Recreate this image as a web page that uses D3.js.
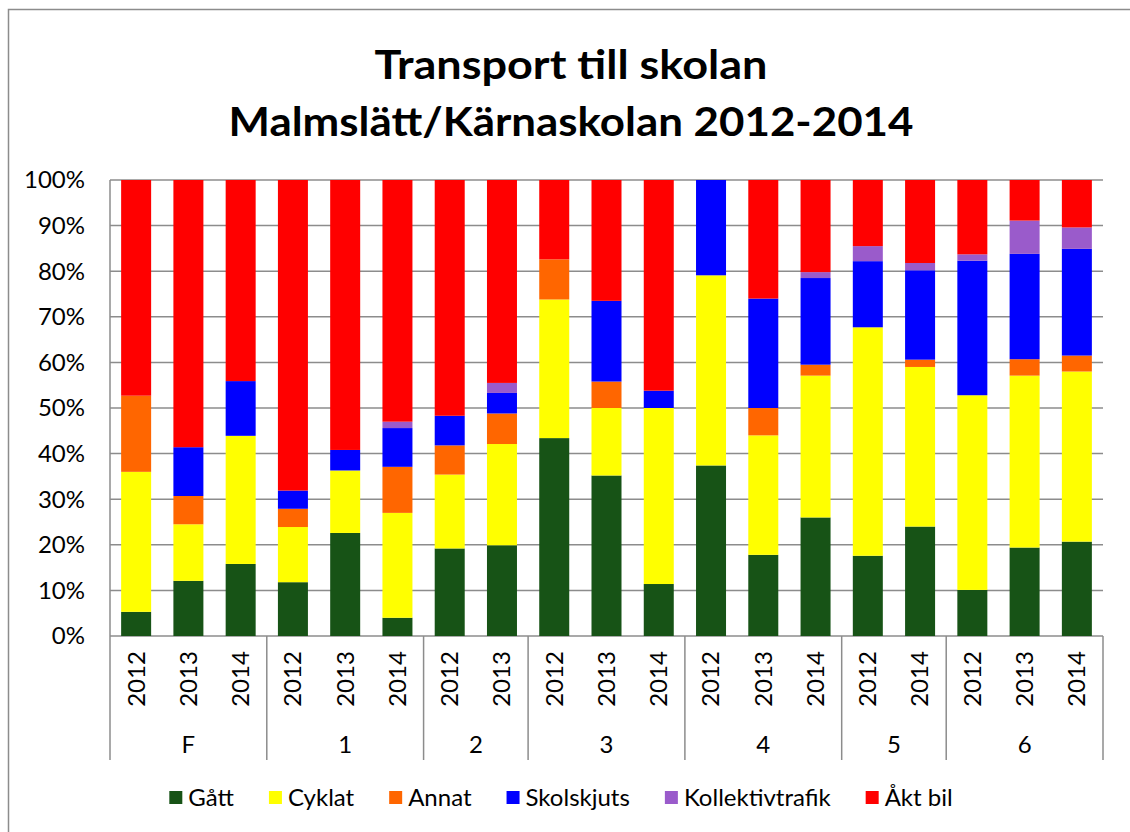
<!DOCTYPE html>
<html>
<head>
	<meta charset="utf-8">
	<title>Transport till skolan</title>
	<script src="https://d3js.org/d3.v7.min.js"></script>
	<style>
	body{
		margin: 0;
		background: #ffffff;
		font-family: Lato, "Liberation Sans", Arial, sans-serif;
	}
	.grid{
		stroke: #8c8c8c;
		stroke-width: 1.5;
	}
	</style>
</head>
<body>
	<div id="chart"></div>
	<script>
		// data (percent of pupils)
		var groups = ["F", "F", "F", "1", "1", "1", "2", "2", "3", "3", "3", "4", "4", "4", "5", "5", "6", "6", "6"];
		var years = ["2012", "2013", "2014", "2012", "2013", "2014", "2012", "2013", "2012", "2013", "2014", "2012", "2013", "2014", "2012", "2014", "2012", "2013", "2014"];
		var series = ["Gått", "Cyklat", "Annat", "Skolskjuts", "Kollektivtrafik", "Åkt bil"];
		var colors = ["#175316", "#ffff00", "#ff6600", "#0000ff", "#9a5bcb", "#ff0000"];

		var gatt      = [5.3, 12.1, 15.8, 11.8, 22.6, 4.0, 19.2, 19.9, 43.4, 35.2, 11.4, 37.4, 17.8, 26.0, 17.6, 24.0, 10.1, 19.4, 20.7];
		var cyklat    = [30.7, 12.4, 28.1, 12.1, 13.7, 23.0, 16.2, 22.2, 30.4, 14.8, 38.6, 41.7, 26.2, 31.1, 50.1, 35.0, 42.7, 37.7, 37.3];
		var annat     = [16.7, 6.2, 0, 4.0, 0, 10.1, 6.4, 6.7, 8.8, 5.8, 0, 0, 6.0, 2.4, 0, 1.6, 0, 3.6, 3.5];
		var skolskjuts = [0, 10.7, 12.0, 4.0, 4.5, 8.5, 6.5, 4.5, 0, 17.7, 3.8, 20.9, 24.0, 19.0, 14.5, 19.6, 29.5, 23.1, 23.4];
		var kollektiv = [0, 0, 0, 0, 0, 1.4, 0, 2.2, 0, 0, 0, 0, 0, 1.3, 3.3, 1.6, 1.4, 7.3, 4.7];
		var aktBil    = [47.3, 58.6, 44.1, 68.1, 59.2, 53.0, 51.7, 44.5, 17.4, 26.5, 46.2, 0, 26.0, 20.2, 14.5, 18.2, 16.3, 8.9, 10.4];

		var yTicks = [0, 10, 20, 30, 40, 50, 60, 70, 80, 90, 100];

		var valueLists = [gatt, cyklat, annat, skolskjuts, kollektiv, aktBil];
		var rows = years.map(function(y, i){
			var row = {index: i};
			series.forEach(function(s, k){ row[s] = valueLists[k][i]; });
			return row;
		});

		var width = 1130, height = 832;
		var plot = {left: 110, right: 1103, top: 180, bottom: 636};
		var fontSize = 24;

		var svg = d3.select("#chart").append("svg")
			.attr("width", width)
			.attr("height", height);

		svg.append("rect")
			.attr("width", width).attr("height", height)
			.attr("fill", "#ffffff");

		// outer frame of the chart area
		svg.append("rect")
			.attr("x", 8.5).attr("y", 9.5)
			.attr("width", 1200).attr("height", 900)
			.attr("fill", "none")
			.attr("stroke", "#8c8c8c")
			.attr("stroke-width", 1.5);

		// title
		var title = svg.append("g")
			.attr("font-weight", "bold")
			.attr("font-size", 41)
			.attr("text-anchor", "middle")
			.attr("fill", "#000");
		title.append("text").attr("x", 571).attr("y", 79)
			.attr("textLength", 393).attr("lengthAdjust", "spacingAndGlyphs")
			.text("Transport till skolan");
		title.append("text").attr("x", 571).attr("y", 136)
			.attr("textLength", 685).attr("lengthAdjust", "spacingAndGlyphs")
			.text("Malmslätt/Kärnaskolan 2012-2014");

		var x = d3.scaleBand()
			.domain(d3.range(years.length))
			.range([plot.left, plot.right])
			.paddingInner(0.426)
			.paddingOuter(0.213);

		var y = d3.scaleLinear()
			.domain([0, 100])
			.range([plot.bottom, plot.top]);

		// gridlines + y labels
		svg.append("g").selectAll("line")
			.data(yTicks)
			.enter().append("line")
			.attr("class", "grid")
			.attr("x1", plot.left).attr("x2", plot.right)
			.attr("y1", function(d){ return y(d); })
			.attr("y2", function(d){ return y(d); });

		svg.append("g")
			.attr("font-size", fontSize)
			.attr("text-anchor", "end")
			.selectAll("text")
			.data(yTicks)
			.enter().append("text")
			.attr("x", 85)
			.attr("y", function(d){ return y(d); })
			.attr("dy", "0.35em")
			.text(function(d){ return d + "%"; });

		// stacked bars
		var stack = d3.stack().keys(series);
		var layers = stack(rows);

		svg.append("g").selectAll("g")
			.data(layers)
			.enter().append("g")
			.attr("fill", function(d, i){ return colors[i]; })
			.selectAll("rect")
			.data(function(d){ return d; })
			.enter().append("rect")
			.attr("x", function(d){ return x(d.data.index); })
			.attr("width", x.bandwidth())
			.attr("y", function(d){ return y(d[1]); })
			.attr("height", function(d){ return y(d[0]) - y(d[1]); });

		// left axis line
		svg.append("line").attr("class", "grid")
			.attr("x1", plot.left).attr("x2", plot.left)
			.attr("y1", plot.top).attr("y2", plot.bottom);

		// category axis: years
		svg.append("g")
			.attr("font-size", fontSize)
			.attr("text-anchor", "middle")
			.selectAll("text")
			.data(years)
			.enter().append("text")
			.attr("transform", function(d, i){
				return "translate(" + (x(i) + x.bandwidth() / 2) + ",679) rotate(-90)";
			})
			.attr("dy", "0.35em")
			.text(function(d){ return d; });

		// group spans
		var groupList = [];
		groups.forEach(function(g, i){
			var last = groupList[groupList.length - 1];
			if(last && last.name === g){
				last.end = i;
			} else {
				groupList.push({name: g, start: i, end: i});
			}
		});

		var edges = [0].concat(groupList.map(function(g){ return g.end + 1; }));
		svg.append("g").selectAll("line")
			.data(edges)
			.enter().append("line")
			.attr("class", "grid")
			.attr("x1", function(d){ return plot.left + d * x.step(); })
			.attr("x2", function(d){ return plot.left + d * x.step(); })
			.attr("y1", plot.bottom).attr("y2", 760);

		svg.append("g")
			.attr("font-size", fontSize)
			.attr("text-anchor", "middle")
			.selectAll("text")
			.data(groupList)
			.enter().append("text")
			.attr("x", function(d){ return plot.left + (d.start + d.end + 1) / 2 * x.step(); })
			.attr("y", 753)
			.text(function(d){ return d.name; });

		// legend
		var legend = svg.append("g").attr("font-size", fontSize);
		var items = legend.selectAll("g")
			.data(series)
			.enter().append("g");
		items.append("rect")
			.attr("width", 13).attr("height", 13)
			.attr("y", 791)
			.attr("fill", function(d, i){ return colors[i]; });
		items.append("text")
			.attr("x", 19)
			.attr("y", 806)
			.text(function(d){ return d; });

		var gap = 35;
		var cursor = 0;
		var offsets = [];
		items.each(function(){
			offsets.push(cursor);
			var w = d3.select(this).select("text").node().getComputedTextLength();
			cursor += 19 + w + gap;
		});
		var total = cursor - gap;
		var startX = 561 - total / 2;
		items.attr("transform", function(d, i){ return "translate(" + (startX + offsets[i]) + ",0)"; });
	</script>
</body>
</html>
